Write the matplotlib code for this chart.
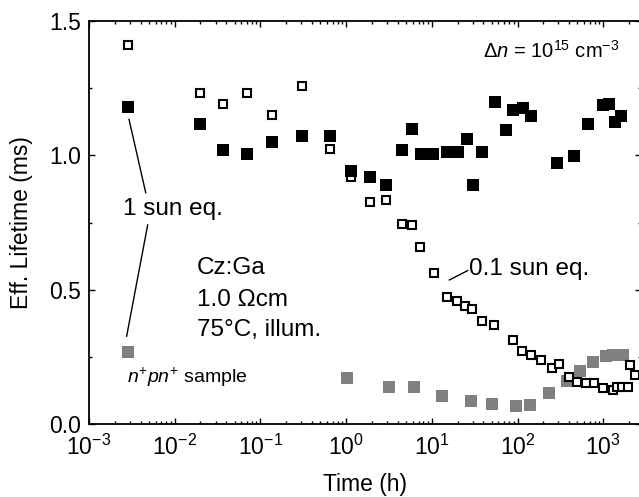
import matplotlib
matplotlib.use("Agg")
import matplotlib.pyplot as plt
from matplotlib.ticker import LogLocator, MultipleLocator, NullFormatter

plt.rcParams['font.family'] = ['Liberation Sans', 'DejaVu Sans']
plt.rcParams['mathtext.fontset'] = 'custom'
plt.rcParams['mathtext.rm'] = 'Liberation Sans'
plt.rcParams['mathtext.it'] = 'Liberation Sans:italic'
plt.rcParams['mathtext.bf'] = 'Liberation Sans:bold'

# ---- data ----
t_1sun = [2.83e-3, 0.0197, 0.0363, 0.070, 0.136, 0.305, 0.643, 1.14, 1.90, 2.92,
          4.49, 5.87, 7.41, 10.4, 15.2, 20.4, 25.5, 30.0, 38.5, 54.6, 73.4, 87.9,
          115, 144, 289, 457, 660, 986, 1178, 1361, 1614]
tau_1sun = [1.18, 1.115, 1.019, 1.004, 1.048, 1.071, 1.071, 0.940, 0.918, 0.888,
            1.019, 1.097, 1.006, 1.006, 1.011, 1.011, 1.061, 0.888, 1.011, 1.198, 1.094, 1.169,
            1.177, 1.146, 0.970, 0.997, 1.116, 1.187, 1.190, 1.123, 1.146]

t_01sun = [2.83e-3, 0.0197, 0.0363, 0.070, 0.136, 0.305, 0.643, 1.14, 1.90, 2.92,
           4.45, 5.87, 7.27, 10.5, 14.9, 19.5, 24.4, 29.8, 39.0, 52.6, 87.9, 113,
           145, 186, 252, 305, 401, 500, 631, 788, 985, 1296, 1460, 1670, 1960, 2060, 2330]
tau_01sun = [1.41, 1.231, 1.190, 1.232, 1.149, 1.259, 1.022, 0.920, 0.827, 0.834,
             0.743, 0.739, 0.660, 0.563, 0.474, 0.459, 0.439, 0.427, 0.385, 0.367, 0.313, 0.272,
             0.256, 0.238, 0.207, 0.223, 0.176, 0.157, 0.151, 0.151, 0.133, 0.127, 0.139, 0.139,
             0.139, 0.220, 0.182]

t_npn = [2.83e-3, 1.03, 3.19, 6.19, 13.0, 28.4, 50.0, 96, 140, 233, 378, 537, 754,
         1079, 1296, 1718]
tau_npn = [0.267, 0.170, 0.137, 0.137, 0.104, 0.086, 0.074, 0.067, 0.071, 0.117,
           0.160, 0.198, 0.231, 0.253, 0.257, 0.257]

x_ticks = [1e-3, 1e-2, 1e-1, 1e0, 1e1, 1e2, 1e3]
y_ticks = [0.0, 0.5, 1.0, 1.5]

# ---- figure ----
W, H = 639, 497
fig = plt.figure(figsize=(W / 100, H / 100), dpi=100)
ax_l, ax_r, ax_t, ax_b = 89, 641, 21, 424
ax = fig.add_axes([ax_l / W, 1 - ax_b / H, (ax_r - ax_l) / W, (ax_b - ax_t) / H])

ax.set_xscale('log')
ax.set_xlim(1e-3, 10 ** (-3 + (ax_r - ax_l) / 85.7))
ax.set_ylim(0, 1.5)

ax.plot(t_npn, tau_npn, 's', color='#808080', markersize=8.5, markeredgewidth=0, zorder=3)
ax.plot(t_01sun, tau_01sun, 's', markerfacecolor='white', markeredgecolor='black',
        markersize=6.3, markeredgewidth=1.5, zorder=4)
ax.plot(t_1sun, tau_1sun, 's', color='black', markersize=8.5, markeredgewidth=0, zorder=5)

# leader lines
ax.plot([2.93e-3, 4.59e-3], [1.134, 0.861], color='black', lw=1.0)
ax.plot([4.84e-3, 2.75e-3], [0.741, 0.327], color='black', lw=1.0)
ax.plot([16.0, 26.2], [0.536, 0.571], color='black', lw=1.0)

fs_ann = 17.5
ax.text(2.5e-3, 0.778, '1 sun eq.', fontsize=fs_ann, va='baseline', ha='left')
ax.text(0.0182, 0.560, 'Cz:Ga', fontsize=fs_ann, va='baseline', ha='left')
ax.text(0.0182, 0.441, '1.0 Ωcm', fontsize=fs_ann, va='baseline', ha='left')
ax.text(0.0182, 0.329, '75°C, illum.', fontsize=fs_ann, va='baseline', ha='left')
ax.text(27.2, 0.553, '0.1 sun eq.', fontsize=fs_ann, va='baseline', ha='left')
ax.text(2.78e-3, 0.153, r'$n^{+}pn^{+}$ sample', fontsize=14, va='baseline', ha='left')
ax.text(39.5, 1.362, r'$\Delta n$ = 10$^{15}$ cm$^{-3}$', fontsize=14.5, va='baseline', ha='left')

# ticks
ax.set_xticks(x_ticks)
ax.xaxis.set_minor_locator(LogLocator(base=10, subs=range(2, 10), numticks=20))
ax.xaxis.set_minor_formatter(NullFormatter())
ax.set_yticks(y_ticks)
ax.set_yticklabels([f'{v:.1f}' for v in y_ticks])
ax.yaxis.set_minor_locator(MultipleLocator(0.25))

ax.tick_params(which='both', direction='in', top=True, right=True, width=1.0)
ax.tick_params(which='major', length=4.5)
ax.tick_params(which='minor', length=2.5)
ax.tick_params(axis='x', which='major', labelsize=16.5, pad=8)
ax.tick_params(axis='y', which='major', labelsize=16.5, pad=6)

for s in ax.spines.values():
    s.set_linewidth(1.3)

ax.set_xlabel('Time (h)', fontsize=16.5)
ax.set_ylabel('Eff. Lifetime (ms)', fontsize=16.5)
ax.xaxis.set_label_coords(0.5, -0.122)
ax.yaxis.set_label_coords(-0.101, 0.5)

fig.savefig('out.png', dpi=100)
